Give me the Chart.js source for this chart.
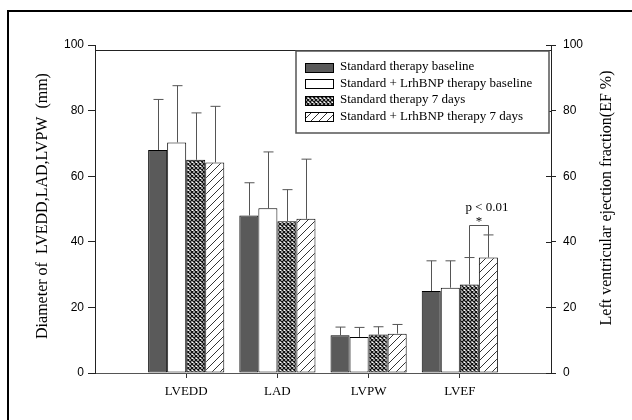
<!DOCTYPE html>
<html>
<head>
<meta charset="utf-8">
<script src="https://cdn.jsdelivr.net/npm/chart.js@4.4.1/dist/chart.umd.min.js"></script>
<style>
  html, body { margin: 0; padding: 0; background: #fff; overflow: hidden; }
  #frame { position: absolute; left: 7px; top: 10px; width: 700px; height: 500px; border: 2px solid #000; }
  #wrap { position: absolute; left: 0; top: 0; width: 632px; height: 420px; }
</style>
</head>
<body>
<div id="frame"></div>
<div id="wrap"><canvas id="js-chart"></canvas></div>
<script>
// данные с картинки
const categories = ['LVEDD', 'LAD', 'LVPW', 'LVEF'];
const seriesNames = [
  'Standard therapy baseline',
  'Standard + LrhBNP therapy baseline',
  'Standard therapy 7 days',
  'Standard + LrhBNP therapy 7 days',
];
const stdBaseline = [68, 48, 11.5, 25];
const lrhBaseline = [70.3, 50.2, 11, 26];
const std7days = [65, 46.3, 11.7, 27];
const lrh7days = [64.2, 47, 12, 35.2];
// верхние «усы» (SD)
const stdBaselineSd = [15.4, 10, 2.5, 9.2];
const lrhBaselineSd = [17.3, 17.2, 2.9, 8.2];
const std7daysSd = [14.3, 9.6, 2.4, 8.2];
const lrh7daysSd = [17.1, 18.2, 2.8, 6.9];
const yTicks = [0, 20, 40, 60, 80, 100];
const sigText = 'p < 0.01';
const sigLevel = 45.2;

const SERIF = '"Liberation Serif", "DejaVu Serif", serif';
const SANS = '"Liberation Sans", Arial, sans-serif';

// паттерны для заливки
function crossPattern() {
  const c = document.createElement('canvas');
  c.width = 4; c.height = 4;
  const g = c.getContext('2d');
  g.fillStyle = '#fff';
  g.fillRect(0, 0, 4, 4);
  g.strokeStyle = '#111';
  g.lineWidth = 1.3;
  g.beginPath();
  g.moveTo(-1, -1); g.lineTo(5, 5);
  g.moveTo(-1, 5); g.lineTo(5, -1);
  g.stroke();
  return g.createPattern(c, 'repeat');
}

function hatchPattern() {
  const c = document.createElement('canvas');
  c.width = 8; c.height = 8;
  const g = c.getContext('2d');
  g.fillStyle = '#fff';
  g.fillRect(0, 0, 8, 8);
  g.strokeStyle = '#333';
  g.lineWidth = 1;
  g.beginPath();
  g.moveTo(0, 8); g.lineTo(8, 0);
  g.moveTo(-1, 1); g.lineTo(1, -1);
  g.moveTo(7, 9); g.lineTo(9, 7);
  g.stroke();
  return g.createPattern(c, 'repeat');
}

const fills = ['#5a5a5a', '#ffffff', crossPattern(), hatchPattern()];
const means = [stdBaseline, lrhBaseline, std7days, lrh7days];
const sds = [stdBaselineSd, lrhBaselineSd, std7daysSd, lrh7daysSd];

// пустые слоты по краям, чтобы группы стояли как на оригинале
const labels = ['', ...categories, ''];
const pad = arr => [null, ...arr, null];

// усы, скобка значимости, подписи осей, легенда
const annotate = {
  id: 'annotate',
  afterDatasetsDraw(chart) {
    const { ctx, scales: { y }, chartArea } = chart;
    ctx.save();
    ctx.strokeStyle = '#555';
    ctx.lineWidth = 1;
    means.forEach((m, i) => {
      const meta = chart.getDatasetMeta(i);
      m.forEach((v, j) => {
        const bar = meta.data[j + 1];
        const top = y.getPixelForValue(v + sds[i][j]);
        const x = Math.round(bar.x) + 0.5;
        ctx.beginPath();
        ctx.moveTo(x, bar.y);
        ctx.lineTo(x, top);
        ctx.moveTo(x - 5, top);
        ctx.lineTo(x + 5, top);
        ctx.stroke();
      });
    });

    // скобка p < 0.01 между 3 и 4 рядом у LVEF
    const k = 3;
    const b3 = chart.getDatasetMeta(2).data[k + 1];
    const b4 = chart.getDatasetMeta(3).data[k + 1];
    const x3 = Math.round(b3.x) + 0.5, x4 = Math.round(b4.x) + 0.5;
    const yTop = Math.round(y.getPixelForValue(sigLevel)) + 0.5;
    ctx.beginPath();
    ctx.moveTo(x3, y.getPixelForValue(std7days[k] + std7daysSd[k]));
    ctx.lineTo(x3, yTop);
    ctx.lineTo(x4, yTop);
    ctx.lineTo(x4, y.getPixelForValue(lrh7days[k] + lrh7daysSd[k]));
    ctx.stroke();
    ctx.fillStyle = '#000';
    ctx.font = '13px ' + SERIF;
    ctx.textAlign = 'center';
    ctx.textBaseline = 'alphabetic';
    ctx.fillText('*', (x3 + x4) / 2, yTop - 1);
    ctx.fillText(sigText, (x3 + x4) / 2 + 8, yTop - 15);

    // верхняя рамка
    ctx.strokeStyle = '#222';
    ctx.beginPath();
    const yFrame = Math.round(y.getPixelForValue(98.5)) + 0.5;
    ctx.moveTo(chartArea.left, yFrame);
    ctx.lineTo(chartArea.right, yFrame);
    // внутренние риски правой оси
    const y1 = chart.scales.y1;
    y1.ticks.forEach(t => {
      const py = Math.round(y1.getPixelForValue(t.value)) + 0.5;
      ctx.moveTo(chartArea.right - 5, py);
      ctx.lineTo(chartArea.right, py);
    });
    ctx.stroke();
    ctx.restore();
  },
  afterDraw(chart) {
    const { ctx, chartArea } = chart;
    ctx.save();
    ctx.fillStyle = '#000';
    ctx.font = '16px ' + SERIF;
    ctx.textAlign = 'center';
    ctx.textBaseline = 'middle';
    ctx.translate(43, 206);
    ctx.rotate(-Math.PI / 2);
    ctx.fillText('Diameter of  LVEDD,LAD,LVPW  (mm)', 0, 0);
    ctx.restore();

    ctx.save();
    ctx.fillStyle = '#000';
    ctx.font = '16px ' + SERIF;
    ctx.textAlign = 'center';
    ctx.textBaseline = 'middle';
    ctx.translate(607, 198);
    ctx.rotate(-Math.PI / 2);
    ctx.fillText('Left ventricular ejection fraction(EF %)', 0, 0);
    ctx.restore();

    // легенда
    const lx = 296, ly = 51, lw = 253, lh = 82;
    ctx.save();
    ctx.fillStyle = '#fff';
    ctx.fillRect(lx, ly, lw, lh);
    ctx.strokeStyle = '#555';
    ctx.lineWidth = 1.5;
    ctx.strokeRect(lx, ly, lw, lh);
    ctx.font = '13px ' + SERIF;
    ctx.textBaseline = 'middle';
    ctx.textAlign = 'left';
    seriesNames.forEach((name, i) => {
      const cy = 67 + i * 16.5;
      ctx.fillStyle = fills[i];
      ctx.fillRect(305.5, Math.round(cy - 4.5) + 0.5, 28, 9);
      ctx.strokeStyle = '#000';
      ctx.lineWidth = 1;
      ctx.strokeRect(305.5, Math.round(cy - 4.5) + 0.5, 28, 9);
      ctx.fillStyle = '#000';
      ctx.fillText(name, 340, cy);
    });
    ctx.restore();
  },
};

Chart.defaults.font.family = SANS;
Chart.defaults.font.size = 12;
Chart.defaults.color = '#000';

const ctx = document.querySelector('#js-chart').getContext('2d');
new Chart(ctx, {
  type: 'bar',
  data: {
    labels: labels,
    datasets: means.map((m, i) => ({
      label: seriesNames[i],
      data: pad(m),
      backgroundColor: fills[i],
      borderColor: '#000',
      borderWidth: 1,
      borderSkipped: false,
      barPercentage: 1,
      categoryPercentage: 0.835,
    })),
  },
  options: {
    responsive: true,
    maintainAspectRatio: false,
    animation: false,
    layout: { padding: { top: 45, left: 0, right: 0, bottom: 0 } },
    plugins: { legend: { display: false }, tooltip: { enabled: false } },
    scales: {
      x: {
        offset: false,
        grid: {
          offset: false,
          drawOnChartArea: false,
          tickLength: 5,
          tickColor: c => (c.tick && c.tick.label ? '#333' : 'rgba(0,0,0,0)'),
        },
        border: { color: '#555' },
        ticks: { font: { family: SERIF, size: 13 }, padding: 6, maxRotation: 0, autoSkip: false },
        afterFit: s => { s.height = 47; },
      },
      y: {
        position: 'left',
        min: 0,
        max: 100,
        afterBuildTicks: s => { s.ticks = yTicks.map(v => ({ value: v })); },
        grid: { drawOnChartArea: false, tickLength: 7, color: '#222' },
        border: { color: '#222' },
        ticks: { padding: 4 },
        afterFit: s => { s.width = 95; },
      },
      y1: {
        position: 'right',
        min: 0,
        max: 100,
        afterBuildTicks: s => { s.ticks = yTicks.map(v => ({ value: v })); },
        grid: { drawOnChartArea: false, tickLength: 5, color: '#222' },
        border: { color: '#222' },
        ticks: { padding: 7 },
        afterFit: s => { s.width = 81; },
      },
    },
  },
  plugins: [annotate],
});
</script>
</body>
</html>
